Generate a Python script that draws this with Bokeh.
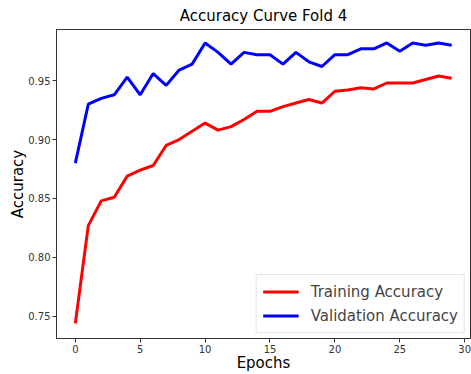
from bokeh.plotting import figure
from bokeh.models import Range1d, FixedTicker, NumeralTickFormatter, Legend, LegendItem
from bokeh.embed import file_html
from bokeh.resources import INLINE

epochs = list(range(30))
train_acc = [0.744, 0.827, 0.848, 0.851, 0.869, 0.874, 0.878, 0.895, 0.900, 0.907,
             0.914, 0.908, 0.911, 0.917, 0.924, 0.924, 0.928, 0.931, 0.934, 0.931,
             0.941, 0.942, 0.944, 0.943, 0.948, 0.948, 0.948, 0.951, 0.954, 0.952]
val_acc = [0.880, 0.930, 0.935, 0.938, 0.953, 0.938, 0.956, 0.946, 0.959, 0.964,
           0.982, 0.974, 0.964, 0.974, 0.972, 0.972, 0.964, 0.974, 0.966, 0.962,
           0.972, 0.972, 0.977, 0.977, 0.982, 0.975, 0.982, 0.980, 0.982, 0.980]
x_ticks = [0, 5, 10, 15, 20, 25, 30]
y_ticks = [0.75, 0.80, 0.85, 0.90, 0.95]

FONT = "DejaVu Sans"

p = figure(width=471, height=374, output_backend="svg", toolbar_location=None,
           x_range=Range1d(-1.45, 30.45), y_range=Range1d(0.7312, 0.9934),
           min_border_left=56, min_border_right=1, min_border_top=27, min_border_bottom=36)
p.title.text = "Accuracy Curve Fold 4"
p.title.align = "center"
p.title.text_font = FONT
p.title.text_font_size = "15px"
p.title.text_font_style = "normal"
p.title.text_color = "#000000"
p.title.standoff = 9

r1 = p.line(epochs, train_acc, line_color="#ff0000", line_width=3)
r2 = p.line(epochs, val_acc, line_color="#0000ff", line_width=3)

p.xgrid.visible = False
p.ygrid.visible = False
p.outline_line_color = "#333333"
p.outline_line_width = 1

for ax in (p.xaxis, p.yaxis):
    ax.major_tick_in = 0
    ax.major_tick_out = 4
    ax.minor_tick_in = 0
    ax.minor_tick_out = 0
    ax.axis_line_color = "#333333"
    ax.major_tick_line_color = "#333333"
    ax.major_label_text_font = FONT
    ax.major_label_text_font_size = "10px"
    ax.major_label_text_color = "#333333"
    ax.major_label_text_line_height = 0.9
    ax.axis_label_text_font = FONT
    ax.axis_label_text_font_size = "15px"
    ax.axis_label_text_font_style = "normal"
    ax.axis_label_text_color = "#000000"
    ax.axis_label_text_line_height = 0.9

p.xaxis.ticker = FixedTicker(ticks=x_ticks)
p.yaxis.ticker = FixedTicker(ticks=y_ticks)
p.yaxis.formatter = NumeralTickFormatter(format="0.00")
p.xaxis.axis_label = "Epochs"
p.yaxis.axis_label = "Accuracy"
p.xaxis.major_label_standoff = 2
p.yaxis.major_label_standoff = 2
p.xaxis.axis_label_standoff = -2
p.yaxis.axis_label_standoff = -2

legend = Legend(items=[LegendItem(label="Training Accuracy", renderers=[r1]),
                       LegendItem(label="Validation Accuracy", renderers=[r2])],
                location="bottom_right")
legend.label_text_font = FONT
legend.label_text_font_size = "15px"
legend.glyph_width = 36
legend.glyph_height = 21
legend.label_height = 21
legend.label_standoff = 12
legend.spacing = 3
legend.padding = 6
legend.margin = 5
legend.border_line_color = "#cccccc"
legend.border_line_width = 1
legend.background_fill_alpha = 0.8
p.add_layout(legend)

open("out.html", "w").write(file_html(p, INLINE))
